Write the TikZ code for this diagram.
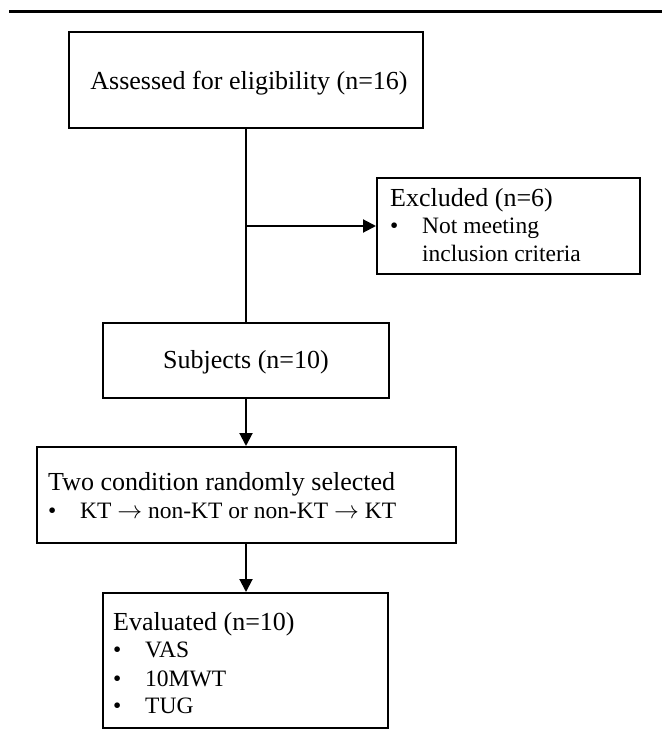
\documentclass[tikz,border=0pt]{standalone}
\usepackage{fontspec}
\setmainfont{Liberation Serif}
\usetikzlibrary{arrows.meta}
\tikzset{
  boxnode/.style={draw, line width=2pt, rectangle, inner sep=0pt},
  txt/.style={inner sep=0pt, anchor=base west},
  itemtxt/.style={inner sep=0pt, anchor=base west, font=\fontsize{23.5}{27}\selectfont},
  conn/.style={line width=2pt},
  arr/.style={line width=2pt, -{Triangle[length=13pt,width=13pt]}},
}
\newcommand{\bul}{\makebox[32pt][l]{•}}
\begin{document}
\begin{tikzpicture}[x=1pt,y=-1pt,font=\fontsize{26}{27.5}\selectfont]
\useasboundingbox (0,0) rectangle (662,730);
\draw[line width=3pt] (9,12) -- (662,12);
% boxes
\node[boxnode, minimum width=354pt, minimum height=96pt] (b1) at (246,80) {};
\node[boxnode, minimum width=263pt, minimum height=96pt] (ex) at (508.5,226) {};
\node[boxnode, minimum width=286pt, minimum height=75pt] (b2) at (246,360.5) {};
\node[boxnode, minimum width=419pt, minimum height=96pt] (b3) at (246.5,495) {};
\node[boxnode, minimum width=285pt, minimum height=135pt] (b4) at (245.5,660.5) {};
% texts
\node[txt, anchor=base] (t1) at (249,90) {Assessed for eligibility (n=16)};
\node[txt] (ex1) at (390,206) {Excluded (n=6)};
\node[itemtxt] (ex2) at (390,233) {\bul Not meeting};
\node[itemtxt] (ex3) at (390,261) {\hspace{32pt}inclusion criteria};
\node[txt, anchor=base] (t2) at (246,368) {Subjects (n=10)};
\node[txt] (t3a) at (48,490) {Two condition randomly selected};
\node[itemtxt] (t3b) at (48,518) {\bul KT $\rightarrow$ non-KT or non-KT $\rightarrow$ KT};
\node[txt] (t4a) at (113,630) {Evaluated (n=10)};
\node[itemtxt] (t4b) at (113,657) {\bul VAS};
\node[itemtxt] (t4c) at (113,686) {\bul 10MWT};
\node[itemtxt] (t4d) at (113,713) {\bul TUG};
% connectors
\coordinate (br) at (246,226);
\draw[conn] (b1.south) -- (b2.north);
\draw[arr] (br) -- (ex.west);
\draw[arr] (b2.south) -- (b2.south |- b3.north);
\draw[arr] (b3.south -| b2.south) -- (b4.north -| b2.south);
\end{tikzpicture}
\end{document}
